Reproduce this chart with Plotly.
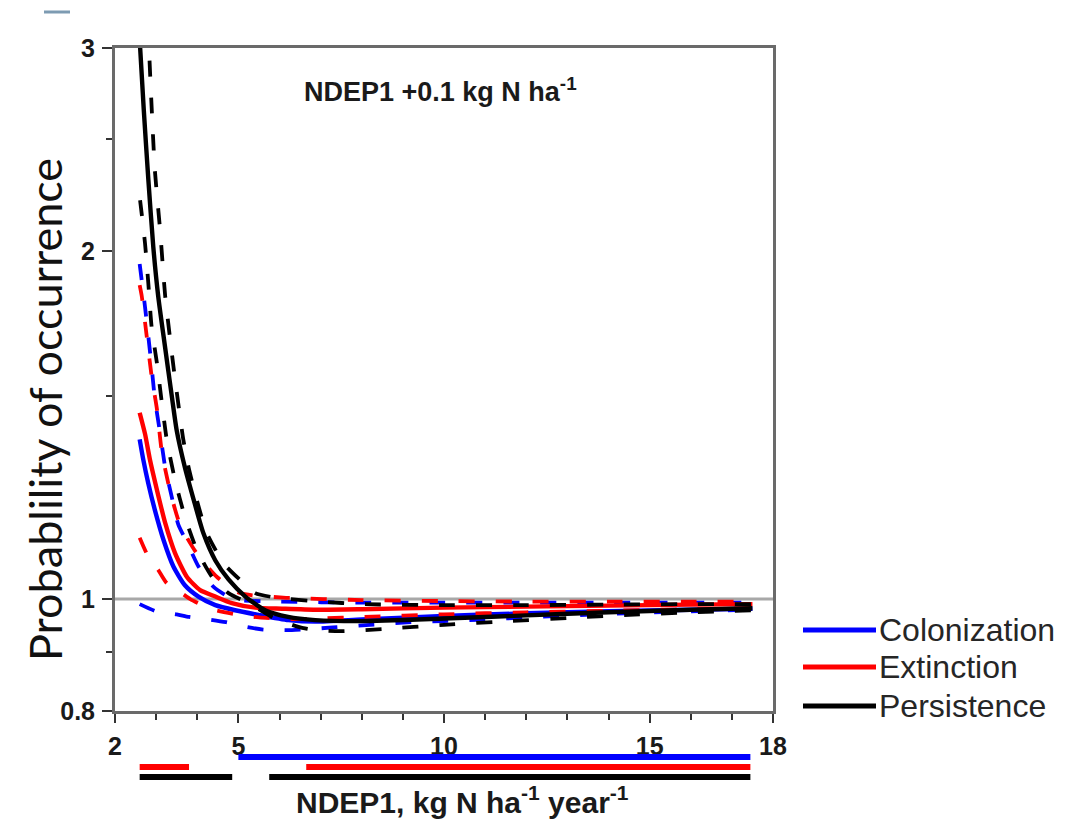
import plotly.graph_objects as go

# ---------------- data ----------------
# x = NDEP1 (kg N ha-1 yr-1); y = relative probability of occurrence (log axis)

# Colonization (blue)
COL_X = [2.60, 2.69, 2.81, 2.97, 3.18, 3.42, 3.70, 4.03, 4.44, 4.92, 5.49, 6.22, 6.87, 8.0, 10.0, 12.0, 14.0, 16.0, 17.5]
COL_MEAN = [1.375, 1.319, 1.259, 1.194, 1.125, 1.067, 1.028, 1.005, 0.988, 0.978, 0.969, 0.959, 0.956, 0.960, 0.967, 0.972, 0.976, 0.979, 0.981]
COL_UP_X = [2.60, 2.73, 2.89, 2.97, 3.10, 3.22, 3.38, 3.54, 3.75, 4.03, 4.39, 4.88, 6.0, 8.0, 10.0, 12.0, 14.0, 16.0, 17.5]
COL_UP = [1.95, 1.79, 1.59, 1.49, 1.39, 1.30, 1.226, 1.16, 1.12, 1.067, 1.025, 1.000, 0.995, 0.993, 0.993, 0.993, 0.993, 0.993, 0.993]
COL_LO_X = [2.60, 3.0, 3.5, 3.8, 4.3, 4.7, 5.2, 5.6, 6.3, 7.3, 8.2, 9.2, 10.0, 11.0, 12.0, 14.0, 16.0, 17.5]
COL_LO = [0.990, 0.976, 0.970, 0.965, 0.960, 0.955, 0.946, 0.941, 0.940, 0.945, 0.950, 0.955, 0.957, 0.960, 0.964, 0.971, 0.976, 0.979]

# Extinction (red)
EXT_X = [2.60, 2.73, 2.85, 3.02, 3.22, 3.46, 3.75, 4.07, 4.44, 4.84, 5.41, 6.06, 6.87, 8.0, 10.0, 12.0, 14.0, 16.0, 17.5]
EXT_MEAN = [1.45, 1.39, 1.32, 1.243, 1.164, 1.096, 1.045, 1.018, 1.005, 0.992, 0.983, 0.981, 0.979, 0.980, 0.983, 0.985, 0.987, 0.989, 0.990]
EXT_UP_X = [2.60, 2.65, 2.77, 2.89, 3.02, 3.14, 3.34, 3.58, 3.99, 4.48, 5.04, 6.09, 8.0, 10.0, 12.0, 14.0, 16.0, 17.5]
EXT_UP = [1.87, 1.83, 1.69, 1.56, 1.46, 1.34, 1.24, 1.16, 1.095, 1.045, 1.012, 1.003, 0.998, 0.996, 0.995, 0.995, 0.995, 0.995]
EXT_LO_X = [2.60, 2.80, 3.05, 3.26, 3.62, 3.83, 4.20, 4.44, 5.0, 5.5, 6.2, 7.0, 8.0, 10.0, 12.0, 14.0, 16.0, 17.5]
EXT_LO = [1.13, 1.09, 1.06, 1.032, 1.012, 1.000, 0.985, 0.978, 0.969, 0.964, 0.961, 0.962, 0.965, 0.970, 0.974, 0.977, 0.980, 0.982]

# Persistence (black)
PER_X = [2.60, 2.70, 2.81, 2.93, 3.05, 3.22, 3.38, 3.50, 3.70, 3.91, 4.15, 4.44, 4.76, 5.17, 5.65, 6.21, 6.87, 8.0, 10.0, 12.0, 14.0, 16.0, 17.5]
PER_MEAN = [3.05, 2.65, 2.31, 2.02, 1.83, 1.65, 1.50, 1.40, 1.30, 1.22, 1.14, 1.08, 1.04, 1.005, 0.978, 0.965, 0.959, 0.957, 0.962, 0.968, 0.974, 0.979, 0.982]
PER_UP_X = [2.80, 2.89, 2.97, 3.10, 3.22, 3.34, 3.46, 3.58, 3.66, 3.79, 3.99, 4.23, 4.64, 5.04, 5.41, 5.90, 7.0, 8.0, 10.0, 12.0, 14.0, 16.0, 17.5]
PER_UP = [3.15, 2.67, 2.35, 2.08, 1.83, 1.68, 1.55, 1.44, 1.375, 1.30, 1.218, 1.141, 1.074, 1.039, 1.012, 1.003, 0.995, 0.990, 0.988, 0.988, 0.989, 0.990, 0.990]
PER_LO_X = [2.61, 2.73, 2.81, 2.89, 3.02, 3.14, 3.26, 3.46, 3.70, 3.99, 4.36, 4.76, 5.25, 5.82, 6.46, 6.87, 7.5, 8.5, 10.0, 11.6, 13.0, 14.5, 16.0, 17.5]
PER_LO = [2.215, 2.032, 1.877, 1.721, 1.60, 1.478, 1.373, 1.268, 1.178, 1.103, 1.045, 1.012, 0.992, 0.965, 0.946, 0.940, 0.938, 0.942, 0.950, 0.957, 0.963, 0.969, 0.974, 0.978]

# significance ranges drawn as bars under the x axis (start, end)
COL_SIG = [(5.0, 17.45)]
EXT_SIG = [(2.6, 3.8), (6.65, 17.45)]
PER_SIG = [(2.6, 4.85), (5.75, 17.45)]

REF_LEVEL = 1.0

NAMES = ["Colonization", "Extinction", "Persistence"]
COLORS = ["#0000ff", "#ff0000", "#000000"]

X_TICKS = [2, 5, 10, 15, 18]
X_MINOR = [3, 4, 6, 7, 8, 9, 11, 12, 13, 14, 16, 17]
Y_TICKS = [0.8, 1, 2, 3]
Y_TICKTEXT = ["0.8", "1", "2", "3"]
Y_MINOR = [0.9, 1.5, 2.5]

# ---------------- figure ----------------
W, H = 1086, 822
OFF = 8  # page body margin of the html page
# target pixel positions in the final screenshot
PLOT_L, PLOT_R, PLOT_T, MAIN_BOTTOM, AREA_BOTTOM = 115, 773, 48, 711, 792
ML = PLOT_L - OFF
MT = PLOT_T - OFF
PW = PLOT_R - PLOT_L
PH = AREA_BOTTOM - PLOT_T
MR = W - ML - PW
MB = H - MT - PH
main_dom0 = (AREA_BOTTOM - MAIN_BOTTOM) / PH


def px_x(px):
    return (px - PLOT_L) / PW


def px_y(py):
    return 1 - (py - PLOT_T) / PH


fig = go.Figure()

series = [
    (COL_X, COL_MEAN, COL_UP_X, COL_UP, COL_LO_X, COL_LO, COL_SIG),
    (EXT_X, EXT_MEAN, EXT_UP_X, EXT_UP, EXT_LO_X, EXT_LO, EXT_SIG),
    (PER_X, PER_MEAN, PER_UP_X, PER_UP, PER_LO_X, PER_LO, PER_SIG),
]

for (xm, ym, xu, yu, xl, yl, sig), name, col in zip(series, NAMES, COLORS):
    for xx, yy in ((xu, yu), (xl, yl)):
        fig.add_trace(go.Scatter(
            x=xx, y=yy, mode="lines", showlegend=False, hoverinfo="skip",
            line=dict(color=col, width=3.8, dash="16px,21px", shape="spline", smoothing=0.6),
            xaxis="x", yaxis="y"))
    fig.add_trace(go.Scatter(
        x=xm, y=ym, mode="lines", name=name, showlegend=False,
        line=dict(color=col, width=4.4, shape="spline", smoothing=0.6),
        xaxis="x", yaxis="y"))

# significance bars
for row, ((_, _, _, _, _, _, sig), col) in enumerate(zip(series, COLORS)):
    level = 2 - row
    bx, by = [], []
    for a, b in sig:
        bx += [a, b, None]
        by += [level, level, None]
    fig.add_trace(go.Scatter(
        x=bx, y=by, mode="lines", showlegend=False, hoverinfo="skip",
        line=dict(color=col, width=6), xaxis="x2", yaxis="y2"))

# reference line at 1
fig.add_shape(type="line", xref="x domain", x0=0, x1=1, yref="y", y0=REF_LEVEL, y1=REF_LEVEL,
              line=dict(color="#a8a8a8", width=3), layer="below")

tickfont = dict(family="Liberation Sans, Arial, sans-serif", size=25, color="#1a1a1a", weight="bold")
axcol = "#6a6a6a"

fig.update_layout(
    width=W, height=H,
    margin=dict(l=ML, r=MR, t=MT, b=MB, autoexpand=False),
    paper_bgcolor="white", plot_bgcolor="white",
    showlegend=False,
    xaxis=dict(
        range=[2, 18], domain=[0, 1], anchor="y",
        tickmode="array", tickvals=X_TICKS, ticktext=[str(v) for v in X_TICKS],
        ticks="outside", ticklen=9, tickwidth=2, tickcolor="#333",
        minor=dict(tickmode="array", tickvals=X_MINOR, ticks="outside", ticklen=6, tickwidth=2, tickcolor="#333"),
        showgrid=False, zeroline=False,
        showline=True, linecolor=axcol, linewidth=3, mirror=True,
        tickfont=tickfont, ticklabelstandoff=2,
    ),
    yaxis=dict(
        type="log", range=[-0.09691, 0.47712], domain=[main_dom0, 1], anchor="x",
        tickmode="array", tickvals=Y_TICKS, ticktext=Y_TICKTEXT,
        ticks="outside", ticklen=10, tickwidth=2, tickcolor="#333",
        minor=dict(tickmode="array", tickvals=Y_MINOR, ticks="outside", ticklen=6, tickwidth=2, tickcolor="#333"),
        showgrid=False, zeroline=False,
        showline=True, linecolor=axcol, linewidth=3, mirror=True,
        tickfont=tickfont, ticklabelstandoff=2,
    ),
    xaxis2=dict(range=[2, 18], domain=[0, 1], anchor="y2", visible=False, matches="x"),
    yaxis2=dict(range=[-1.5, 6.6], domain=[0, main_dom0], anchor="x2", visible=False),
)

# y-axis title
fig.add_annotation(text="Probablility of occurrence", xref="paper", yref="paper",
                   x=px_x(45), y=px_y(410), textangle=-90, showarrow=False,
                   xanchor="center", yanchor="middle",
                   font=dict(family="Lato, Open Sans, sans-serif", size=45, color="#111"))
# x-axis title
fig.add_annotation(text="NDEP1, kg N ha<sup>-1</sup> year<sup>-1</sup>", xref="paper", yref="paper",
                   x=px_x(462), y=px_y(800), showarrow=False, xanchor="center", yanchor="middle",
                   font=dict(family="Liberation Sans, Arial, sans-serif", size=30, color="#1a1a1a", weight="bold"))
# panel label
fig.add_annotation(text="NDEP1 +0.1 kg N ha<sup>-1</sup>", xref="paper", yref="paper",
                   x=px_x(440), y=px_y(90), showarrow=False, xanchor="center", yanchor="middle",
                   font=dict(family="Liberation Sans, Arial, sans-serif", size=27, color="#1a1a1a", weight="bold"))

# manual legend
leg_y = [630, 667, 706]
for name, col, ly in zip(NAMES, COLORS, leg_y):
    fig.add_shape(type="line", xref="paper", yref="paper",
                  x0=px_x(803), x1=px_x(876), y0=px_y(ly), y1=px_y(ly),
                  line=dict(color=col, width=5))
    fig.add_annotation(text=name, xref="paper", yref="paper", x=px_x(877), y=px_y(ly),
                       showarrow=False, xanchor="left", yanchor="middle",
                       font=dict(family="Liberation Sans, Arial, sans-serif", size=32, color="#262626"))

# small slide artefact at top-left
fig.add_shape(type="line", xref="paper", yref="paper",
              x0=px_x(44), x1=px_x(70), y0=px_y(12), y1=px_y(12),
              line=dict(color="#7d9bb2", width=3))

fig.write_html("out.html")
